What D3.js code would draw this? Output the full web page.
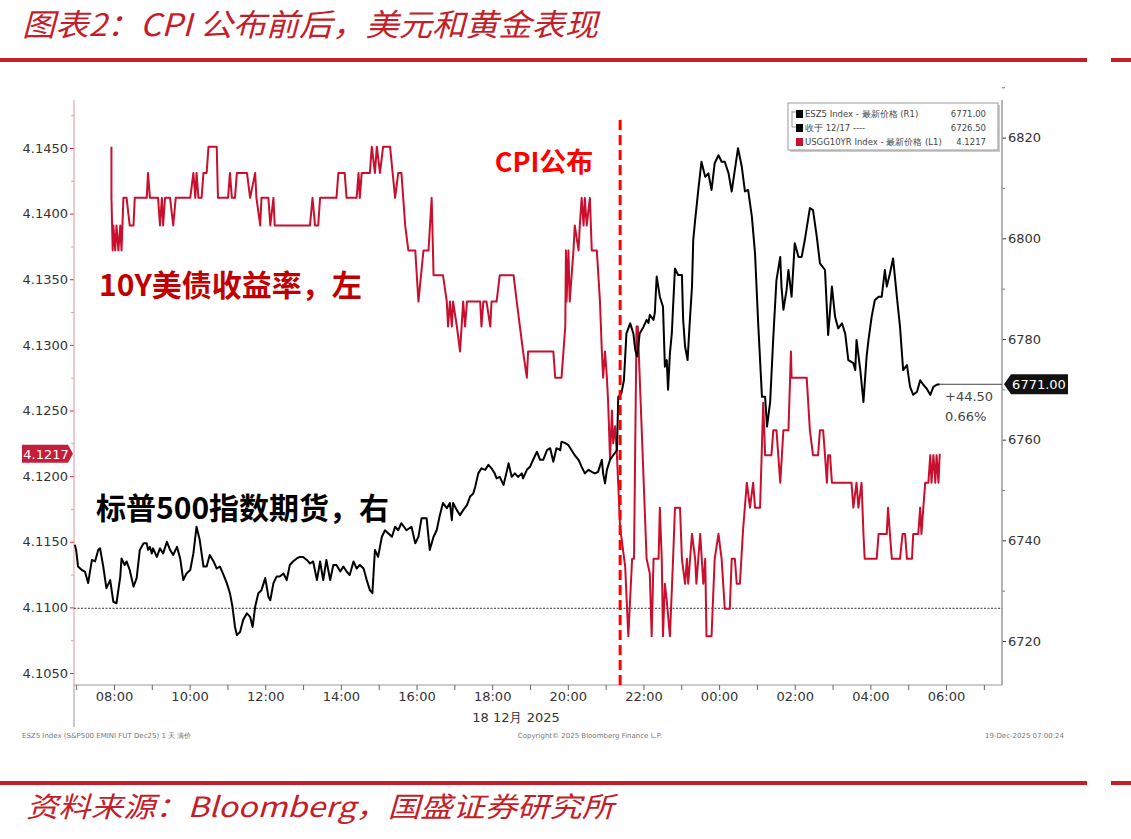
<!DOCTYPE html>
<html>
<head>
<meta charset="utf-8">
<title>CPI 公布前后，美元和黄金表现</title>
<script src="https://d3js.org/d3.v7.min.js"></script>
<style>
  body { margin: 0; background: #fff; }
  svg { display: block; }
</style>
</head>
<body>
<div id="chart"></div>
<script>
// USGG10YR (left axis) - minutes after 18 Dec 2025 00:00, yield
const ustMin = [476,476,478,479,482,484,487,490,492,495,500,505,511,513,532,534,537,550,553,556,558,561,569,574,578,601,606,609,611,614,619,622,627,630,643,645,661,664,667,672,675,691,696,704,706,712,714,725,728,733,735,791,795,799,804,807,833,836,846,849,865,868,870,873,886,889,894,897,902,907,918,926,931,936,942,947,958,963,971,979,984,987,1002,1008,1010,1013,1016,1018,1024,1029,1034,1037,1040,1061,1063,1066,1071,1077,1079,1087,1092,1114,1119,1124,1129,1135,1137,1177,1180,1190,1196,1197,1198,1201,1203,1209,1211,1217,1219,1222,1225,1227,1230,1235,1238,1246,1251,1254,1256,1259,1262,1264,1267,1270,1272,1275,1278,1283,1291,1296,1302,1305,1309,1311,1325,1330,1333,1336,1344,1346,1349,1351,1354,1357,1362,1367,1370,1378,1381,1386,1389,1391,1397,1402,1404,1410,1415,1418,1420,1428,1433,1439,1444,1449,1457,1460,1465,1468,1473,1478,1484,1489,1494,1497,1505,1510,1513,1523,1526,1531,1537,1542,1550,1554,1555,1579,1584,1589,1597,1600,1605,1608,1611,1613,1616,1619,1650,1653,1658,1661,1666,1669,1671,1690,1693,1706,1708,1711,1714,1727,1731,1735,1738,1746,1748,1756,1759,1761,1764,1767,1772,1775,1777,1780,1783,1785,1788,1790];
const ustVal = [4.1451,4.1412,4.1372,4.1391,4.1372,4.1391,4.1372,4.1391,4.1372,4.1412,4.1412,4.1391,4.1391,4.1412,4.1412,4.1431,4.1412,4.1412,4.1391,4.1412,4.1391,4.1412,4.1412,4.1391,4.1412,4.1412,4.1431,4.1412,4.1431,4.1412,4.1412,4.1431,4.1431,4.1451,4.1451,4.1412,4.1412,4.1431,4.1412,4.1412,4.1431,4.1431,4.1412,4.1431,4.1412,4.1391,4.1412,4.1412,4.1391,4.1412,4.1391,4.1391,4.1412,4.1391,4.1391,4.1412,4.1412,4.1431,4.1431,4.1412,4.1412,4.1431,4.1412,4.1431,4.1431,4.1451,4.1431,4.1451,4.1431,4.1451,4.1451,4.1412,4.1431,4.1431,4.1391,4.1372,4.1372,4.1333,4.1372,4.1372,4.1412,4.1353,4.1353,4.1333,4.1314,4.1333,4.1314,4.1333,4.1314,4.1295,4.1333,4.1314,4.1333,4.1333,4.1314,4.1333,4.1333,4.1314,4.1333,4.1333,4.1353,4.1353,4.1333,4.1314,4.1295,4.1275,4.1295,4.1295,4.1275,4.1275,4.1314,4.1372,4.1333,4.1372,4.1333,4.1372,4.1391,4.1372,4.1391,4.1412,4.1391,4.1412,4.1391,4.1412,4.1372,4.1372,4.1333,4.1295,4.1275,4.1295,4.1275,4.1256,4.1213,4.1250,4.1225,4.1238,4.1215,4.1161,4.1131,4.1078,4.1137,4.1137,4.1314,4.1314,4.1137,4.1126,4.1078,4.1137,4.1137,4.1176,4.1137,4.1078,4.1118,4.1105,4.1078,4.1137,4.1176,4.1176,4.1137,4.1118,4.1137,4.1118,4.1156,4.1137,4.1118,4.1156,4.1118,4.1137,4.1078,4.1078,4.1137,4.1156,4.1137,4.1099,4.1099,4.1137,4.1137,4.1118,4.1118,4.1159,4.1195,4.1176,4.1195,4.1176,4.1176,4.1256,4.1216,4.1216,4.1235,4.1235,4.1195,4.1235,4.1235,4.1295,4.1275,4.1275,4.1235,4.1216,4.1216,4.1235,4.1235,4.1216,4.1195,4.1216,4.1216,4.1195,4.1195,4.1176,4.1195,4.1176,4.1195,4.1156,4.1137,4.1137,4.1156,4.1156,4.1176,4.1156,4.1137,4.1137,4.1156,4.1156,4.1137,4.1137,4.1156,4.1156,4.1176,4.1156,4.1176,4.1195,4.1195,4.1216,4.1195,4.1216,4.1195,4.1216,4.1195,4.1217];

// ESZ5 Index (right axis)
const esMin = [418,420,423,429,434,439,445,450,455,458,463,468,474,479,484,490,492,497,500,505,511,516,521,527,532,534,537,540,542,548,553,558,564,569,574,580,585,590,595,601,606,611,616,622,627,632,638,643,648,653,659,664,668,672,675,680,685,691,696,700,704,709,714,720,725,728,733,738,743,749,754,759,764,770,775,780,786,791,796,802,807,812,817,823,828,833,839,844,849,854,860,865,870,876,881,886,890,894,899,905,910,915,921,926,931,936,944,952,958,963,968,976,981,987,992,997,1002,1008,1013,1016,1018,1024,1029,1034,1040,1045,1050,1053,1058,1063,1069,1074,1079,1084,1087,1092,1098,1103,1106,1111,1116,1121,1127,1129,1135,1140,1145,1151,1156,1161,1167,1172,1177,1182,1188,1190,1196,1201,1206,1211,1217,1222,1227,1233,1238,1243,1248,1254,1256,1259,1262,1267,1272,1278,1280,1285,1289,1293,1299,1304,1307,1310,1314,1320,1325,1328,1330,1336,1338,1341,1346,1351,1354,1357,1359,1362,1365,1367,1370,1375,1381,1383,1386,1390,1393,1397,1399,1402,1407,1412,1418,1423,1428,1433,1439,1444,1449,1455,1460,1465,1470,1476,1481,1486,1492,1497,1502,1508,1513,1516,1521,1526,1531,1537,1539,1542,1547,1550,1555,1560,1566,1571,1576,1584,1589,1595,1600,1608,1613,1619,1624,1629,1635,1640,1645,1653,1656,1658,1664,1669,1674,1677,1682,1687,1693,1698,1703,1706,1711,1716,1722,1727,1732,1738,1743,1748,1754,1759,1764,1769,1775,1780,1785,1790];
const esVal = [6739.1,6738.1,6734.8,6734.1,6733.8,6731.5,6736.1,6735.8,6738.1,6738.4,6734.8,6730.5,6732.1,6727.8,6727.5,6732.8,6736.4,6735.1,6735.8,6734.1,6730.8,6732.5,6738.1,6739.4,6739.4,6738.1,6738.7,6737.4,6738.4,6736.7,6738.4,6737.4,6739.7,6738.1,6737.1,6738.7,6736.4,6732.1,6733.4,6734.1,6737.4,6742.7,6740.1,6734.8,6734.8,6737.1,6735.8,6734.4,6734.8,6733.4,6731.5,6729.5,6726.8,6722.8,6721.2,6721.8,6724.2,6725.5,6724.8,6722.8,6726.8,6729.5,6730.1,6732.5,6728.8,6728.1,6731.5,6732.8,6732.8,6733.4,6732.1,6735.1,6735.8,6736.4,6736.7,6736.7,6736.1,6735.4,6735.8,6732.1,6735.8,6732.1,6736.1,6732.1,6735.1,6735.1,6733.8,6734.8,6733.8,6733.1,6735.8,6734.4,6735.1,6734.4,6732.1,6730.1,6729.5,6738.1,6736.7,6740.7,6742.0,6741.4,6740.7,6742.7,6742.0,6743.4,6742.0,6742.7,6739.4,6740.7,6744.4,6744.4,6738.1,6740.7,6742.0,6745.0,6747.4,6746.4,6747.4,6744.0,6747.4,6746.0,6745.0,6746.0,6747.0,6748.7,6749.3,6750.6,6753.3,6754.3,6754.0,6755.0,6754.3,6753.3,6752.3,6752.6,6751.0,6753.6,6755.3,6752.6,6753.3,6752.6,6753.3,6752.3,6754.0,6754.6,6756.0,6757.6,6756.0,6756.0,6757.9,6758.3,6755.6,6758.3,6757.9,6759.6,6759.3,6758.9,6757.9,6756.9,6756.0,6754.6,6753.3,6754.0,6753.6,6753.3,6753.6,6756.0,6753.3,6751.3,6754.0,6756.0,6756.9,6757.9,6768.5,6769.2,6771.8,6781.1,6783.1,6781.1,6777.8,6776.5,6781.1,6782.4,6783.8,6783.2,6784.8,6783.8,6785.2,6792.4,6788.4,6786.4,6774.5,6775.8,6769.9,6777.2,6781.1,6786.4,6794.0,6792.7,6792.7,6783.8,6778.5,6775.8,6782.4,6790.4,6799.7,6803.6,6809.6,6815.2,6812.2,6812.9,6809.6,6814.9,6816.5,6815.2,6815.2,6812.9,6809.3,6813.6,6817.9,6814.2,6809.3,6809.6,6804.3,6797.0,6783.1,6768.5,6768.5,6762.6,6767.5,6780.4,6791.7,6796.3,6790.4,6785.8,6789.7,6793.7,6788.4,6799.0,6796.3,6796.3,6799.7,6806.0,6805.6,6800.3,6795.0,6793.7,6780.8,6790.4,6784.4,6782.1,6783.1,6781.1,6775.8,6775.2,6773.8,6779.8,6773.8,6767.5,6776.5,6779.8,6784.4,6787.7,6788.4,6788.4,6793.7,6790.4,6793.0,6796.0,6788.4,6782.4,6773.8,6774.8,6770.5,6768.9,6769.5,6771.8,6770.9,6770.2,6768.9,6770.5,6770.9,6771.0];

const leftTicks = [4.1050, 4.1100, 4.1150, 4.1200, 4.1250, 4.1300, 4.1350, 4.1400, 4.1450];
const rightTicks = [6720, 6740, 6760, 6780, 6800, 6820];
const prevClose = 6726.50;
const lastES = 6771.00;
const lastUST = 4.1217;
const esChange = "+44.50";
const esChangePct = "0.66%";
const cpiMin = 1283;
const legendLabels = ["ESZ5 Index - 最新价格 (R1)", "收于 12/17 ----", "USGG10YR Index - 最新价格 (L1)"];
const legendValues = ["6771.00", "6726.50", "4.1217"];

const W = 1131, H = 839;
const RED = "#c41e2a";
const LINE_RED = "#c8102e";
const plot = { left: 74, right: 1002, top: 100, bottom: 685 };

const svg = d3.select("#chart").append("svg")
  .attr("width", W).attr("height", H)
  .style("font-family", "'DejaVu Sans', sans-serif");

// header / footer
svg.append("text")
  .attr("x", 22).attr("y", 36)
  .attr("fill", RED)
  .attr("textLength", 576)
  .attr("lengthAdjust", "spacingAndGlyphs")
  .style("font-family", "'Noto Sans CJK SC', sans-serif")
  .style("font-style", "italic")
  .style("font-size", "31px")
  .text("图表2：CPI 公布前后，美元和黄金表现");

[58, 781].forEach(yy => {
  svg.append("rect").attr("x", 0).attr("y", yy).attr("width", 1087).attr("height", 4).attr("fill", RED);
  svg.append("rect").attr("x", 1111).attr("y", yy).attr("width", 20).attr("height", 4).attr("fill", RED);
});

svg.append("text")
  .attr("x", 26).attr("y", 817)
  .attr("fill", RED)
  .attr("textLength", 588)
  .attr("lengthAdjust", "spacingAndGlyphs")
  .style("font-family", "'Noto Sans CJK SC', sans-serif")
  .style("font-style", "italic")
  .style("font-size", "28px")
  .text("资料来源：Bloomberg，国盛证券研究所");

// scales
const day0 = new Date(2025, 11, 18, 0, 0, 0);
const toDate = m => new Date(day0.getTime() + m * 60000);

const x = d3.scaleTime()
  .domain([toDate(416.6), toDate(1888.8)])
  .range([plot.left, plot.right]);

const yL = d3.scaleLinear()
  .domain([4.104086, 4.148657])
  .range([plot.bottom, plot.top]);

const yR = d3.scaleLinear()
  .domain([6711.26, 6827.47])
  .range([plot.bottom, plot.top]);

// left axis
const leftMinor = leftTicks.slice(0, -1).map(t => t + 0.0025).concat([4.1475]);
svg.append("g")
  .attr("transform", `translate(${plot.left},0)`)
  .call(d3.axisLeft(yL).tickValues(leftMinor).tickSize(3).tickFormat(""))
  .call(g => g.select(".domain").remove())
  .call(g => g.selectAll("line").attr("stroke", "#e3a0a8"));

const gL = svg.append("g")
  .attr("transform", `translate(${plot.left},0)`)
  .call(d3.axisLeft(yL).tickValues(leftTicks).tickSize(4).tickPadding(2).tickFormat(d3.format(".4f")));
gL.select(".domain").remove();
gL.selectAll("line").attr("stroke", "#d0283a");
gL.selectAll("text").attr("fill", "#333").style("font-size", "13px").style("font-family", "'DejaVu Sans', sans-serif");

svg.append("line")
  .attr("x1", plot.left).attr("x2", plot.left)
  .attr("y1", plot.top).attr("y2", plot.bottom)
  .attr("stroke", "#e8a3ab").attr("stroke-width", 1.2);
svg.append("line")
  .attr("x1", plot.left).attr("x2", plot.left)
  .attr("y1", plot.bottom).attr("y2", 727)
  .attr("stroke", "#999");

// right axis
const rightMinor = rightTicks.map(t => t + 10);
svg.append("g")
  .attr("transform", `translate(${plot.right},0)`)
  .call(d3.axisRight(yR).tickValues(rightMinor).tickSize(3).tickFormat(""))
  .call(g => g.select(".domain").remove())
  .call(g => g.selectAll("line").attr("stroke", "#777"));

const gR = svg.append("g")
  .attr("transform", `translate(${plot.right},0)`)
  .call(d3.axisRight(yR).tickValues(rightTicks).tickSize(4).tickPadding(2).tickFormat(d3.format("d")));
gR.select(".domain").remove();
gR.selectAll("line").attr("stroke", "#333");
gR.selectAll("text").attr("fill", "#333").style("font-size", "13px").style("font-family", "'DejaVu Sans', sans-serif");

svg.append("line")
  .attr("x1", plot.right).attr("x2", plot.right)
  .attr("y1", plot.top).attr("y2", plot.bottom)
  .attr("stroke", "#999").attr("stroke-width", 1.5);

// bottom axis
const gX = svg.append("g")
  .attr("transform", `translate(0,${plot.bottom})`)
  .call(d3.axisBottom(x)
    .ticks(d3.timeHour.every(1))
    .tickSize(5)
    .tickPadding(2)
    .tickFormat(d => d.getHours() % 2 === 0 ? d3.timeFormat("%H:%M")(d) : ""));
gX.select(".domain").attr("stroke", "#999").attr("d", `M${plot.left},0H${plot.right}`);
gX.selectAll("line").attr("stroke", "#666");
gX.selectAll("text").attr("fill", "#333").style("font-size", "13px").style("font-family", "'DejaVu Sans', sans-serif");

svg.append("text")
  .attr("x", 516).attr("y", 722)
  .attr("text-anchor", "middle")
  .attr("fill", "#333")
  .style("font-size", "13px")
  .text("18 12月 2025");

// small print
const smallPrint = svg.append("g").attr("fill", "#777").style("font-size", "7px");
smallPrint.append("text").attr("x", 22).attr("y", 738).text("ESZ5 Index (S&P500 EMINI FUT  Dec25) 1 天 满价");
smallPrint.append("text").attr("x", 590).attr("y", 738).attr("text-anchor", "middle").text("Copyright© 2025 Bloomberg Finance L.P.");
smallPrint.append("text").attr("x", 1064).attr("y", 738).attr("text-anchor", "end").text("19-Dec-2025 07:00:24");

// previous close dotted line
svg.append("line")
  .attr("x1", plot.left).attr("x2", plot.right)
  .attr("y1", yR(prevClose)).attr("y2", yR(prevClose))
  .attr("stroke", "#333").attr("stroke-width", 1)
  .attr("stroke-dasharray", "2,1.5");

// series
const ust = ustMin.map((m, i) => ({ t: toDate(m), v: ustVal[i] }));
const es = esMin.map((m, i) => ({ t: toDate(m), v: esVal[i] }));

svg.append("path")
  .datum(ust)
  .attr("fill", "none")
  .attr("stroke", LINE_RED)
  .attr("stroke-width", 2)
  .attr("stroke-linejoin", "round")
  .attr("d", d3.line().x(d => x(d.t)).y(d => yL(d.v)));

svg.append("path")
  .datum(es)
  .attr("fill", "none")
  .attr("stroke", "#000")
  .attr("stroke-width", 2)
  .attr("stroke-linejoin", "round")
  .attr("d", d3.line().x(d => x(d.t)).y(d => yR(d.v)));

// last price line to the right axis
const lastX = x(toDate(esMin[esMin.length - 1]));
svg.append("line")
  .attr("x1", lastX).attr("x2", plot.right)
  .attr("y1", yR(lastES)).attr("y2", yR(lastES))
  .attr("stroke", "#444").attr("stroke-width", 1);

svg.append("text").attr("x", 945).attr("y", yR(lastES) + 17)
  .attr("fill", "#444").style("font-size", "13px").text(esChange);
svg.append("text").attr("x", 945).attr("y", yR(lastES) + 37)
  .attr("fill", "#444").style("font-size", "13px").text(esChangePct);

// right tag
const tagR = yR(lastES);
svg.append("path")
  .attr("d", `M${plot.right + 2},${tagR} L${plot.right + 9},${tagR - 10} H${plot.right + 66} V${tagR + 10} H${plot.right + 9} Z`)
  .attr("fill", "#111");
svg.append("text")
  .attr("x", plot.right + 37).attr("y", tagR + 5)
  .attr("text-anchor", "middle").attr("fill", "#fff")
  .style("font-size", "13px")
  .text(d3.format(".2f")(lastES));

// left tag
const tagL = yL(lastUST);
svg.append("path")
  .attr("d", `M${plot.left - 1},${tagL} L${plot.left - 6},${tagL - 9} H22 V${tagL + 9} H${plot.left - 6} Z`)
  .attr("fill", "#c41e3a");
svg.append("text")
  .attr("x", 46).attr("y", tagL + 5)
  .attr("text-anchor", "middle").attr("fill", "#fff")
  .style("font-size", "13px")
  .text(d3.format(".4f")(lastUST));

// CPI release marker
const cpiX = x(toDate(cpiMin));
svg.append("line")
  .attr("x1", cpiX).attr("x2", cpiX)
  .attr("y1", 120).attr("y2", plot.bottom)
  .attr("stroke", "#ff0000").attr("stroke-width", 3)
  .attr("stroke-dasharray", "10,5");

svg.append("text")
  .attr("x", 544).attr("y", 172)
  .attr("text-anchor", "middle")
  .attr("fill", "#ff0000")
  .style("font-family", "'Noto Sans CJK SC', sans-serif")
  .style("font-weight", "bold")
  .style("font-size", "27px")
  .text("CPI公布");

svg.append("text")
  .attr("x", 99).attr("y", 296)
  .attr("fill", "#c00000")
  .style("font-family", "'Noto Sans CJK SC', sans-serif")
  .style("font-weight", "bold")
  .style("font-size", "30px")
  .text("10Y美债收益率，左");

svg.append("text")
  .attr("x", 96).attr("y", 519)
  .attr("fill", "#000")
  .style("font-family", "'Noto Sans CJK SC', sans-serif")
  .style("font-weight", "bold")
  .style("font-size", "30px")
  .text("标普500指数期货，右");

// legend box
const lg = svg.append("g").attr("transform", "translate(788,103)");
lg.append("rect").attr("x", 2).attr("y", 2).attr("width", 210).attr("height", 47).attr("fill", "#ccc");
lg.append("rect").attr("width", 210).attr("height", 47).attr("fill", "#fff").attr("stroke", "#999");
lg.append("path").attr("d", "M4,8 V24 H8 M4,9 H8").attr("stroke", "#999").attr("fill", "none");
const swatch = ["#000", "#000", LINE_RED];
legendLabels.forEach((lab, i) => {
  const yy = 14 + i * 14;
  lg.append("rect").attr("x", 8).attr("y", yy - 7).attr("width", 7).attr("height", 8).attr("fill", swatch[i]);
  lg.append("text").attr("x", 17).attr("y", yy).attr("fill", "#444").style("font-size", "8.5px").text(lab);
  lg.append("text").attr("x", 198).attr("y", yy).attr("text-anchor", "end").attr("fill", "#444").style("font-size", "8.5px").text(legendValues[i]);
});
</script>
</body>
</html>
